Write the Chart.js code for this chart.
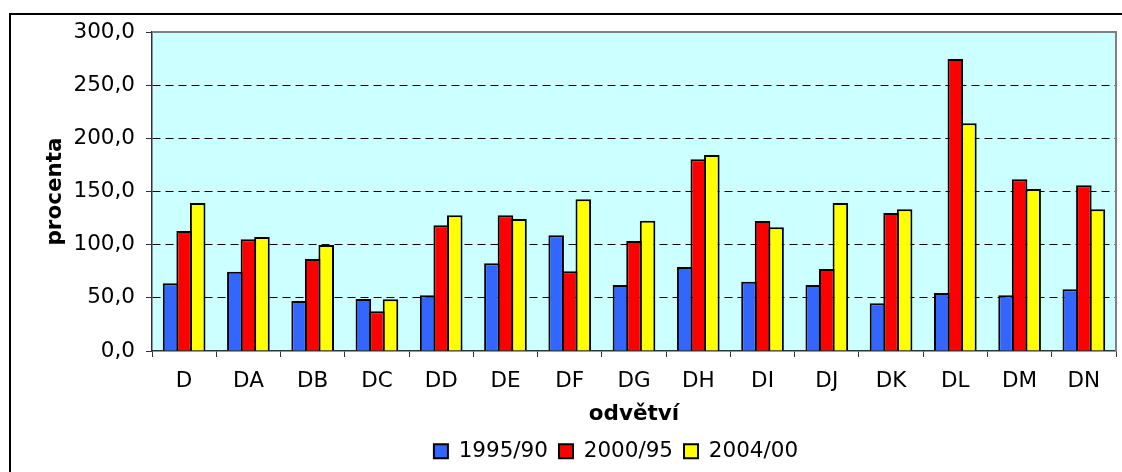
<!DOCTYPE html>
<html>
<head>
<meta charset="utf-8">
<script src="https://cdn.jsdelivr.net/npm/chart.js@4/dist/chart.umd.min.js"></script>
<style>
  html, body { margin: 0; padding: 0; background: #fff; overflow: hidden; width: 1122px; height: 472px; }
  canvas { display: block; }
</style>
</head>
<body>
<canvas id="c" width="1232" height="472"></canvas>
<script>
const categories = ['D','DA','DB','DC','DD','DE','DF','DG','DH','DI','DJ','DK','DL','DM','DN'];
const seriesNames = ['1995/90', '2000/95', '2004/00'];
const s1995 = [63.6, 74.6, 47.0, 48.9, 52.4, 82.5, 108.8, 62.1, 79.0, 65.2, 62.1, 44.8, 54.5, 52.4, 58.0];
const s2000 = [112.9, 105.0, 86.5, 37.3, 118.2, 127.6, 75.0, 103.5, 180.3, 122.3, 77.1, 129.8, 274.6, 161.5, 155.8];
const s2004 = [139.2, 107.2, 99.7, 48.6, 127.6, 124.1, 142.6, 122.6, 184.3, 116.3, 139.2, 133.2, 214.1, 152.4, 133.2];
const yMin = 0, yMax = 300, yStep = 50;
const yTitle = 'procenta';
const xTitle = 'odvětví';

const FONT = "'DejaVu Sans', Verdana, sans-serif";
const FS = 21.5;
Chart.defaults.font.family = FONT;
Chart.defaults.font.size = FS;
Chart.defaults.color = '#000';

const frameAndPlot = {
  id: 'frameAndPlot',
  beforeDraw(chart) {
    const ctx = chart.ctx, a = chart.chartArea;
    ctx.save();
    ctx.fillStyle = '#fff';
    ctx.fillRect(0, 0, chart.width, chart.height);
    ctx.strokeStyle = '#000';
    ctx.lineWidth = 2;
    ctx.strokeRect(10, 14, chart.width + 100, chart.height + 100);
    ctx.fillStyle = '#CCFFFF';
    ctx.fillRect(a.left, a.top, a.right - a.left, a.bottom - a.top);
    ctx.restore();
  },
  beforeDatasetsDraw(chart) {
    const ctx = chart.ctx, a = chart.chartArea;
    ctx.save();
    ctx.strokeStyle = '#808080';
    ctx.lineWidth = 2;
    ctx.beginPath();
    ctx.moveTo(a.left, a.top);
    ctx.lineTo(a.right, a.top);
    ctx.lineTo(a.right, a.bottom);
    ctx.stroke();
    ctx.restore();
  }
};

const mk = (label, data, color) => ({
  label, data,
  backgroundColor: color,
  borderColor: '#000',
  borderWidth: 2,
  borderSkipped: 'bottom',
  categoryPercentage: 0.633,
  barPercentage: 1.147
});

new Chart(document.getElementById('c'), {
  type: 'bar',
  data: {
    labels: categories,
    datasets: [
      mk(seriesNames[0], s1995, '#3366FF'),
      mk(seriesNames[1], s2000, '#FF0000'),
      mk(seriesNames[2], s2004, '#FFFF00')
    ]
  },
  options: {
    responsive: false,
    animation: false,
    devicePixelRatio: 1,
    layout: { padding: { top: 32, left: 0, right: 0, bottom: 0 } },
    plugins: {
      tooltip: { enabled: false },
      legend: {
        position: 'bottom',
        labels: {
          font: { size: FS, family: FONT },
          color: '#000',
          boxWidth: 14,
          boxHeight: 14,
          padding: 11
        }
      }
    },
    scales: {
      x: {
        offset: true,
        grid: {
          display: true,
          drawOnChartArea: false,
          offset: true,
          tickLength: 6,
          tickColor: '#333',
          color: '#333'
        },
        border: { display: true, color: '#333', width: 1.5 },
        ticks: { padding: 12, font: { size: FS }, color: '#000', maxRotation: 0 },
        title: {
          display: true,
          text: xTitle,
          font: { size: FS, weight: 'bold' },
          color: '#000',
          padding: { top: 0, bottom: 2.6 }
        },
        afterFit(s) { s.height = 78.5; }
      },
      y: {
        min: yMin,
        max: yMax,
        ticks: {
          stepSize: yStep,
          padding: 11,
          font: { size: FS },
          color: '#000',
          callback: v => v.toFixed(1).replace('.', ',')
        },
        grid: {
          color: c => (c.tick && (c.tick.value === yMin || c.tick.value === yMax)) ? 'rgba(0,0,0,0)' : '#000',
          lineWidth: 1,
          tickLength: 6,
          tickColor: '#333',
          tickBorderDash: []
        },
        border: { display: true, color: '#333', width: 1.5, dash: [8, 5] },
        title: {
          display: true,
          text: yTitle,
          font: { size: FS, weight: 'bold' },
          color: '#000',
          padding: { top: 43, bottom: 0 }
        },
        afterFit(s) { s.width = 152; }
      },
      yR: {
        type: 'linear',
        position: 'right',
        display: true,
        grid: { display: false, drawOnChartArea: false, drawTicks: false },
        ticks: { display: false },
        border: { display: false },
        afterFit(s) { s.width = 116; }
      }
    }
  },
  plugins: [frameAndPlot]
});
</script>
</body>
</html>
